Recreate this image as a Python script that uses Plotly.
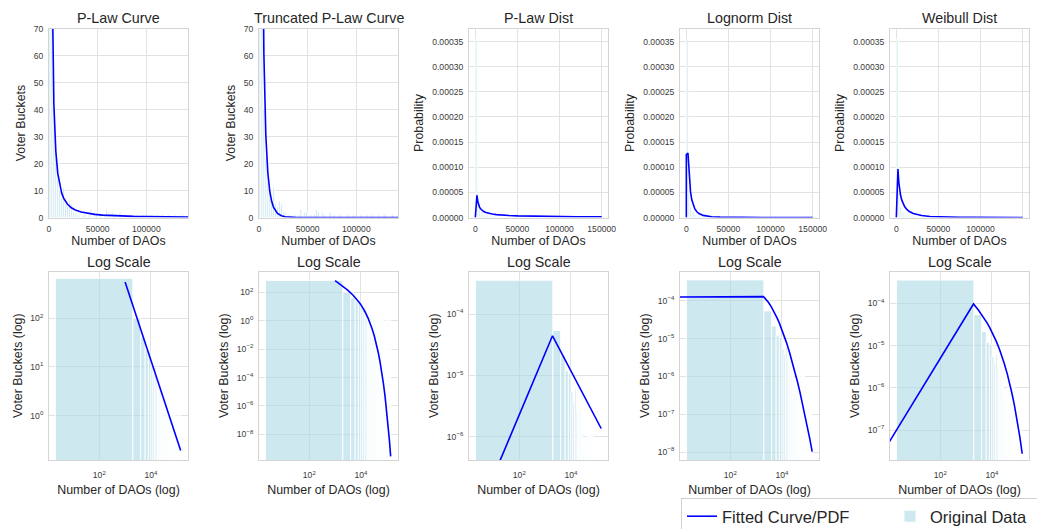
import plotly.graph_objects as go

FIG_W, FIG_H = 1037, 529

# ---------------- data ----------------
bin_start = 2
bin_width = 2000
voter_counts = [660, 100, 40, 22, 20, 10, 7, 11, 5, 4, 6, 5, 2, 2, 1, 1, 0, 1, 1, 0,
                1, 3, 0, 2, 2, 0, 1, 0, 1, 3, 2, 0, 2, 1, 0, 0, 2, 0, 1, 0,
                0, 1, 0, 0, 0, 1, 0, 0, 1, 0, 0, 0, 1, 0, 0, 1, 0, 0, 1, 0,
                0, 1, 0, 0, 1, 0, 0, 0, 1, 0, 0, 1]

curve_x = [1002, 3002, 5002, 7002, 9002, 11002, 13002, 15002, 19002, 23002, 27002,
           33002, 39002, 47002, 55002, 65002, 75002, 87002, 99002, 111002, 127002, 143002]
plaw_fit = [556.5, 95.4, 42.0, 24.5, 16.35, 11.84, 9.05, 7.19, 4.92, 3.62, 2.80,
            2.03, 1.55, 1.148, 0.892, 0.682, 0.542, 0.427, 0.347, 0.289, 0.232, 0.192]
tplaw_fit = [640, 144.4, 60.7, 30.6, 16.95, 9.89, 5.98, 3.71, 1.50, 0.638, 0.280,
             0.0851, 0.02678, 5.95e-3, 1.366e-3, 2.236e-4, 3.755e-5, 4.525e-6,
             5.565e-7, 6.95e-8, 4.42e-9, 2.86e-10]

pdf_x = [0, 1, 1940, 3000, 4000, 5000, 6500, 8000, 10000, 12500, 15000, 20000, 25000,
         30000, 40000, 50000, 60000, 75000, 90000, 105000, 120000, 135000, 150000]
plaw_pdf = [0, 2.28e-8, 4.42e-5, 3.12e-5, 2.48e-5, 2.07e-5, 1.68e-5, 1.42e-5, 1.19e-5,
            9.96e-6, 8.61e-6, 6.84e-6, 5.72e-6, 4.94e-6, 3.92e-6, 3.28e-6, 2.84e-6,
            2.37e-6, 2.05e-6, 1.81e-6, 1.63e-6, 1.48e-6, 1.36e-6]
lognorm_pdf = [0, 1.25e-4, 1.28e-4, 9.06e-5, 6.70e-5, 5.09e-5, 3.53e-5, 2.55e-5, 1.738e-5,
               1.145e-5, 7.92e-6, 4.23e-6, 2.50e-6, 1.584e-6, 7.35e-7, 3.89e-7, 2.25e-7,
               1.121e-7, 6.17e-8, 3.66e-8, 2.29e-8, 1.504e-8, 1.022e-8]
weibull_pdf = [0, 4.97e-8, 9.65e-5, 6.96e-5, 5.47e-5, 4.47e-5, 3.45e-5, 2.76e-5, 2.13e-5,
               1.60e-5, 1.242e-5, 7.98e-6, 5.42e-6, 3.83e-6, 2.08e-6, 1.212e-6, 7.43e-7,
               3.84e-7, 2.10e-7, 1.205e-7, 7.16e-8, 4.37e-8, 2.74e-8]

top_titles = ["P-Law Curve", "Truncated P-Law Curve", "P-Law Dist", "Lognorm Dist", "Weibull Dist"]
bottom_title = "Log Scale"

# log-axis tick exponents
log_x_exps = [2, 4]
log_y_exps = [[0, 1, 2], [-8, -6, -4, -2, 0, 2], [-6, -5, -4], [-8, -7, -6, -5, -4],
              [-7, -6, -5, -4]]

# ---------------- derived ----------------
n_bins = len(voter_counts)
total = sum(voter_counts)
bin_centers = [bin_start + (i + 0.5) * bin_width for i in range(n_bins)]
bin_widths = [bin_width] * n_bins
density = [c / (total * bin_width) for c in voter_counts]


def nz(vals):
    return [v if v > 0 else None for v in vals]


def pow_text(e):
    return "10<sup>%s</sup>" % (("\u2212%d" % -e) if e < 0 else str(e))


# ---------------- styling ----------------
FONT = "Liberation Sans, Arial, Helvetica, sans-serif"
TXT = "#262626"
GRID = "#e2e2e2"
SPINE = "#d4d4d4"
BAR = "rgba(173,216,230,0.6)"
LINE = "#0000ff"

lefts = [49, 259, 469, 680, 890]
pw = 139
top_y = (28.5, 217.5)
bot_y = (271.5, 460.0)


def xdom(i):
    return [lefts[i] / FIG_W, (lefts[i] + pw) / FIG_W]


def ydom(r):
    return [1 - r[1] / FIG_H, 1 - r[0] / FIG_H]


def base_axis():
    return dict(showline=True, linecolor=SPINE, linewidth=1, mirror=True,
                showgrid=True, gridcolor=GRID, gridwidth=1, zeroline=False,
                ticks="", tickfont=dict(size=8.6, color="#3a3a3a", family=FONT),
                title_font=dict(size=12.4, color=TXT, family=FONT),
                automargin=False)


fig = go.Figure()
layout = dict(width=FIG_W, height=FIG_H,
              margin=dict(l=0, r=0, t=0, b=0, autoexpand=False),
              paper_bgcolor="white", plot_bgcolor="white", template="none",
              font=dict(family=FONT, color=TXT), barmode="overlay", showlegend=True,
              legend=dict(orientation="h", x=681 / FIG_W, y=1 - 498 / FIG_H,
                          xanchor="left", yanchor="top", bgcolor="white",
                          bordercolor="#d0d0d0", borderwidth=1,
                          entrywidth=163, entrywidthmode="pixels",
                          font=dict(size=16.5, color=TXT, family=FONT)))

top_curves = [(curve_x, plaw_fit), (curve_x, tplaw_fit), (pdf_x, plaw_pdf),
              (pdf_x, lognorm_pdf), (pdf_x, weibull_pdf)]
top_yrange = [[0, 70], [0, 70], [0, 3.76e-4], [0, 3.76e-4], [0, 3.76e-4]]
top_xrange = [[0, 142800], [0, 142800], [-7500, 157500], [-7500, 157500], [-7500, 157500]]
top_ylabel = ["Voter Buckets", "Voter Buckets", "Probability", "Probability", "Probability"]
bot_yrange = [[-0.91, 2.96], [-9.8, 3.45], [-6.38, -3.307], [-8.21, -3.228], [-7.71, -3.246]]

annotations = []
for row in range(2):
    for i in range(5):
        k = row * 5 + i + 1
        xa = "x" if k == 1 else f"x{k}"
        ya = "y" if k == 1 else f"y{k}"
        xname = "xaxis" if k == 1 else f"xaxis{k}"
        yname = "yaxis" if k == 1 else f"yaxis{k}"
        use_density = i >= 2
        hist_vals = density if use_density else voter_counts
        cx, cy = top_curves[i]
        first = (k == 1)

        bar_y = hist_vals if row == 0 else nz(hist_vals)

        fig.add_trace(go.Bar(x=bin_centers, y=bar_y, width=bin_widths,
                             marker=dict(color=BAR, line=dict(color="white", width=0.9)),
                             name="Original Data", showlegend=first, legendrank=2,
                             xaxis=xa, yaxis=ya))
        fig.add_trace(go.Scatter(x=cx, y=cy, mode="lines",
                                 line=dict(color=LINE, width=1.6),
                                 name="Fitted Curve/PDF", showlegend=first, legendrank=1,
                                 xaxis=xa, yaxis=ya))

        xax = base_axis()
        yax = base_axis()
        xax["domain"] = xdom(i)
        xax["anchor"] = ya
        yax["anchor"] = xa
        yax["ticklabelstandoff"] = 3
        if row == 0:
            yax["domain"] = ydom(top_y)
            xax.update(range=top_xrange[i], tickmode="linear", tick0=0, dtick=50000,
                       tickformat="d", ticklabelstandoff=3,
                       title=dict(text="Number of DAOs", standoff=2.5))
            if use_density:
                yax.update(range=top_yrange[i], tickmode="linear", tick0=0, dtick=0.00005,
                           tickformat=".5f")
            else:
                yax.update(range=top_yrange[i], tickmode="linear", tick0=0, dtick=10)
            yax["title"] = dict(text=top_ylabel[i], standoff=5)
            ty = 18.3
            ttl = top_titles[i]
        else:
            yax["domain"] = ydom(bot_y)
            xax.update(type="log", range=[0.05, 5.44], tickmode="array",
                       tickvals=[10 ** e for e in log_x_exps],
                       ticktext=[pow_text(e) for e in log_x_exps],
                       ticklabelstandoff=7,
                       title=dict(text="Number of DAOs (log)", standoff=5))
            yax.update(type="log", range=bot_yrange[i], tickmode="array",
                       tickvals=[10.0 ** e for e in log_y_exps[i]],
                       ticktext=[pow_text(e) for e in log_y_exps[i]],
                       title=dict(text="Voter Buckets (log)", standoff=5))
            ty = 262.3
            ttl = bottom_title
        layout[xname] = xax
        layout[yname] = yax
        annotations.append(dict(text=ttl, x=(lefts[i] + pw / 2) / FIG_W, y=1 - ty / FIG_H,
                                xref="paper", yref="paper", xanchor="center", yanchor="middle",
                                showarrow=False, font=dict(size=14.3, color=TXT, family=FONT)))

layout["annotations"] = annotations
fig.update_layout(**layout)
fig.write_html("out.html", config={"displayModeBar": False},
               post_script="document.body.style.margin='0px';")
